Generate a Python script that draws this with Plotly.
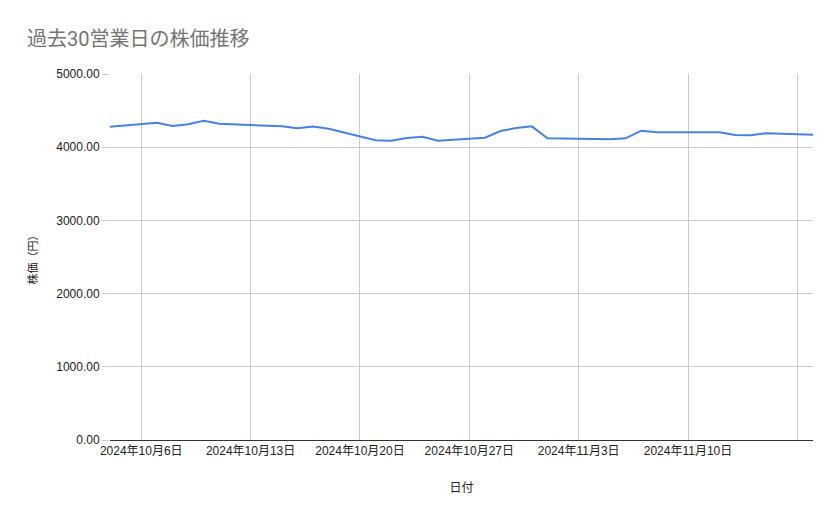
import pandas as pd
import plotly.graph_objects as go

# 過去30営業日 (祝日 10/14, 11/4 を除く)
dates = [
    "2024-10-04", "2024-10-07", "2024-10-08", "2024-10-09", "2024-10-10",
    "2024-10-11", "2024-10-15", "2024-10-16", "2024-10-17", "2024-10-18",
    "2024-10-21", "2024-10-22", "2024-10-23", "2024-10-24", "2024-10-25",
    "2024-10-28", "2024-10-29", "2024-10-30", "2024-10-31", "2024-11-01",
    "2024-11-05", "2024-11-06", "2024-11-07", "2024-11-08", "2024-11-11",
    "2024-11-12", "2024-11-13", "2024-11-14", "2024-11-15", "2024-11-18",
]
prices = [
    4280, 4335, 4290, 4313, 4362,
    4321, 4285, 4258, 4283, 4252,
    4094, 4089, 4126, 4144, 4089,
    4130, 4221, 4262, 4285, 4121,
    4108, 4121, 4226, 4203, 4203,
    4204, 4167, 4162, 4190, 4171,
]

df = pd.DataFrame({"date": pd.to_datetime(dates), "price": prices})

# weekly gridlines; last one has no label (as in the sheet)
tick_dates = pd.date_range("2024-10-06", "2024-11-17", freq="7D")
tick_text = [f"{d.year}年{d.month}月{d.day}日" for d in tick_dates]
tick_text[-1] = ""

fig = go.Figure(go.Scatter(
    x=df["date"],
    y=df["price"],
    mode="lines",
    line=dict(color="#4a82e0", width=2),
))

tick_font = dict(family="Liberation Sans, Noto Sans CJK JP", size=12, color="#222222")

W, H = 831, 511  # page has an 8px body margin
fig.update_layout(
    width=W,
    height=H,
    margin=dict(l=102, r=26, t=66, b=79),
    paper_bgcolor="white",
    plot_bgcolor="white",
    showlegend=False,
    title=dict(
        text="過去30営業日の株価推移",
        x=19 / W, xref="container", xanchor="left",
        y=1 - 31 / H, yref="container", yanchor="middle",
        font=dict(family="Roboto, Noto Sans CJK JP", size=20, color="#757575"),
    ),
    xaxis=dict(
        range=[df["date"].min(), df["date"].max()],
        tickvals=tick_dates,
        ticktext=tick_text,
        showgrid=True,
        gridcolor="#cccccc",
        showline=True,
        linecolor="#333333",
        ticks="",
        tickfont=tick_font,
        title=dict(text="日付", font=tick_font, standoff=26),
    ),
    yaxis=dict(
        range=[0, 5000],
        dtick=1000,
        tickformat=".2f",
        showgrid=True,
        gridcolor="#cccccc",
        zeroline=False,
        ticks="outside",
        ticklen=7,
        tickcolor="#cccccc",
        tickfont=tick_font,
        title=dict(text="株価（円）", font=dict(tick_font, size=11), standoff=16),
    ),
)

fig.write_html("out.html")
